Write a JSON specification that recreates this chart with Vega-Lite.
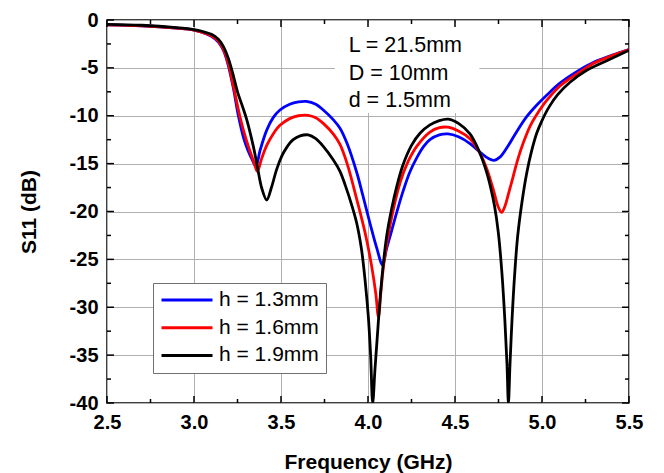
{
  "$schema": "https://vega.github.io/schema/vega-lite/v6.json",
  "width": 522,
  "height": 383,
  "autosize": "none",
  "padding": {"left": 107, "top": 20, "right": 35, "bottom": 70},
  "background": "white",
  "config": {
    "font": "Liberation Sans",
    "view": {"stroke": "black", "strokeWidth": 1.5}
  },
  "datasets": {
    "xMajor": [{"t": 2.5}, {"t": 3.0}, {"t": 3.5}, {"t": 4.0}, {"t": 4.5}, {"t": 5.0}, {"t": 5.5}],
    "xMinor": [{"t": 2.75}, {"t": 3.25}, {"t": 3.75}, {"t": 4.25}, {"t": 4.75}, {"t": 5.25}],
    "yMajor": [{"t": -40}, {"t": -35}, {"t": -30}, {"t": -25}, {"t": -20}, {"t": -15}, {"t": -10}, {"t": -5}, {"t": 0}],
    "yMinor": [{"t": -37.5}, {"t": -32.5}, {"t": -27.5}, {"t": -22.5}, {"t": -17.5}, {"t": -12.5}, {"t": -7.5}, {"t": -2.5}],
    "s11": [
      {"h": "h = 1.3mm", "f": 2.5, "s": -0.5}, {"h": "h = 1.3mm", "f": 2.7, "s": -0.6}, {"h": "h = 1.3mm", "f": 2.9, "s": -0.85},
      {"h": "h = 1.3mm", "f": 3.0, "s": -1.05}, {"h": "h = 1.3mm", "f": 3.05, "s": -1.3}, {"h": "h = 1.3mm", "f": 3.1, "s": -1.7},
      {"h": "h = 1.3mm", "f": 3.14, "s": -2.3}, {"h": "h = 1.3mm", "f": 3.17, "s": -3.2},
      {"h": "h = 1.3mm", "f": 3.195, "s": -4.6}, {"h": "h = 1.3mm", "f": 3.225, "s": -7.0}, {"h": "h = 1.3mm", "f": 3.255, "s": -10.0},
      {"h": "h = 1.3mm", "f": 3.285, "s": -12.3}, {"h": "h = 1.3mm", "f": 3.312, "s": -13.7}, {"h": "h = 1.3mm", "f": 3.335, "s": -14.6},
      {"h": "h = 1.3mm", "f": 3.356, "s": -15.3}, {"h": "h = 1.3mm", "f": 3.38, "s": -13.6}, {"h": "h = 1.3mm", "f": 3.418, "s": -11.5},
      {"h": "h = 1.3mm", "f": 3.455, "s": -10.2}, {"h": "h = 1.3mm", "f": 3.494, "s": -9.4}, {"h": "h = 1.3mm", "f": 3.55, "s": -8.8},
      {"h": "h = 1.3mm", "f": 3.6, "s": -8.55}, {"h": "h = 1.3mm", "f": 3.645, "s": -8.5}, {"h": "h = 1.3mm", "f": 3.7, "s": -8.8},
      {"h": "h = 1.3mm", "f": 3.743, "s": -9.4}, {"h": "h = 1.3mm", "f": 3.8, "s": -10.4}, {"h": "h = 1.3mm", "f": 3.839, "s": -11.3},
      {"h": "h = 1.3mm", "f": 3.88, "s": -12.9}, {"h": "h = 1.3mm", "f": 3.935, "s": -15.9}, {"h": "h = 1.3mm", "f": 3.97, "s": -18.3},
      {"h": "h = 1.3mm", "f": 4.011, "s": -21.2}, {"h": "h = 1.3mm", "f": 4.05, "s": -23.8}, {"h": "h = 1.3mm", "f": 4.084, "s": -25.6},
      {"h": "h = 1.3mm", "f": 4.105, "s": -24.0}, {"h": "h = 1.3mm", "f": 4.13, "s": -22.4}, {"h": "h = 1.3mm", "f": 4.165, "s": -20.1},
      {"h": "h = 1.3mm", "f": 4.203, "s": -17.8}, {"h": "h = 1.3mm", "f": 4.24, "s": -15.9}, {"h": "h = 1.3mm", "f": 4.28, "s": -14.4},
      {"h": "h = 1.3mm", "f": 4.32, "s": -13.2}, {"h": "h = 1.3mm", "f": 4.356, "s": -12.5}, {"h": "h = 1.3mm", "f": 4.41, "s": -12.0},
      {"h": "h = 1.3mm", "f": 4.46, "s": -11.9}, {"h": "h = 1.3mm", "f": 4.52, "s": -12.2}, {"h": "h = 1.3mm", "f": 4.586, "s": -12.9},
      {"h": "h = 1.3mm", "f": 4.65, "s": -13.9}, {"h": "h = 1.3mm", "f": 4.695, "s": -14.5}, {"h": "h = 1.3mm", "f": 4.725, "s": -14.65},
      {"h": "h = 1.3mm", "f": 4.76, "s": -14.3}, {"h": "h = 1.3mm", "f": 4.8, "s": -13.3}, {"h": "h = 1.3mm", "f": 4.85, "s": -11.8},
      {"h": "h = 1.3mm", "f": 4.912, "s": -10.1}, {"h": "h = 1.3mm", "f": 4.969, "s": -8.9}, {"h": "h = 1.3mm", "f": 5.03, "s": -7.8},
      {"h": "h = 1.3mm", "f": 5.103, "s": -6.6}, {"h": "h = 1.3mm", "f": 5.2, "s": -5.4}, {"h": "h = 1.3mm", "f": 5.3, "s": -4.4},
      {"h": "h = 1.3mm", "f": 5.4, "s": -3.7}, {"h": "h = 1.3mm", "f": 5.5, "s": -3.1},

      {"h": "h = 1.6mm", "f": 2.5, "s": -0.5}, {"h": "h = 1.6mm", "f": 2.7, "s": -0.6}, {"h": "h = 1.6mm", "f": 2.9, "s": -0.85},
      {"h": "h = 1.6mm", "f": 3.0, "s": -1.05}, {"h": "h = 1.6mm", "f": 3.05, "s": -1.3}, {"h": "h = 1.6mm", "f": 3.1, "s": -1.65},
      {"h": "h = 1.6mm", "f": 3.14, "s": -2.2}, {"h": "h = 1.6mm", "f": 3.17, "s": -3.1},
      {"h": "h = 1.6mm", "f": 3.198, "s": -4.6}, {"h": "h = 1.6mm", "f": 3.23, "s": -7.2}, {"h": "h = 1.6mm", "f": 3.264, "s": -10.1},
      {"h": "h = 1.6mm", "f": 3.3, "s": -12.5}, {"h": "h = 1.6mm", "f": 3.322, "s": -13.7}, {"h": "h = 1.6mm", "f": 3.345, "s": -14.9},
      {"h": "h = 1.6mm", "f": 3.364, "s": -15.8}, {"h": "h = 1.6mm", "f": 3.39, "s": -14.4}, {"h": "h = 1.6mm", "f": 3.418, "s": -13.1},
      {"h": "h = 1.6mm", "f": 3.455, "s": -11.9}, {"h": "h = 1.6mm", "f": 3.494, "s": -11.0}, {"h": "h = 1.6mm", "f": 3.55, "s": -10.3},
      {"h": "h = 1.6mm", "f": 3.6, "s": -10.0}, {"h": "h = 1.6mm", "f": 3.655, "s": -9.95}, {"h": "h = 1.6mm", "f": 3.7, "s": -10.2},
      {"h": "h = 1.6mm", "f": 3.743, "s": -10.8}, {"h": "h = 1.6mm", "f": 3.8, "s": -11.9}, {"h": "h = 1.6mm", "f": 3.839, "s": -13.0},
      {"h": "h = 1.6mm", "f": 3.88, "s": -15.0}, {"h": "h = 1.6mm", "f": 3.935, "s": -18.7}, {"h": "h = 1.6mm", "f": 3.983, "s": -22.2},
      {"h": "h = 1.6mm", "f": 4.02, "s": -25.6}, {"h": "h = 1.6mm", "f": 4.045, "s": -28.6}, {"h": "h = 1.6mm", "f": 4.06, "s": -31.0},
      {"h": "h = 1.6mm", "f": 4.075, "s": -28.2}, {"h": "h = 1.6mm", "f": 4.09, "s": -25.6}, {"h": "h = 1.6mm", "f": 4.126, "s": -21.5},
      {"h": "h = 1.6mm", "f": 4.184, "s": -17.0}, {"h": "h = 1.6mm", "f": 4.23, "s": -14.8}, {"h": "h = 1.6mm", "f": 4.28, "s": -13.2},
      {"h": "h = 1.6mm", "f": 4.356, "s": -11.7}, {"h": "h = 1.6mm", "f": 4.41, "s": -11.25}, {"h": "h = 1.6mm", "f": 4.46, "s": -11.2},
      {"h": "h = 1.6mm", "f": 4.52, "s": -11.6}, {"h": "h = 1.6mm", "f": 4.586, "s": -12.4}, {"h": "h = 1.6mm", "f": 4.64, "s": -13.8},
      {"h": "h = 1.6mm", "f": 4.682, "s": -15.5}, {"h": "h = 1.6mm", "f": 4.72, "s": -17.7}, {"h": "h = 1.6mm", "f": 4.748, "s": -19.5},
      {"h": "h = 1.6mm", "f": 4.768, "s": -20.1}, {"h": "h = 1.6mm", "f": 4.788, "s": -19.4}, {"h": "h = 1.6mm", "f": 4.808, "s": -18.1},
      {"h": "h = 1.6mm", "f": 4.835, "s": -16.3}, {"h": "h = 1.6mm", "f": 4.86, "s": -14.6}, {"h": "h = 1.6mm", "f": 4.893, "s": -12.8},
      {"h": "h = 1.6mm", "f": 4.931, "s": -11.1}, {"h": "h = 1.6mm", "f": 4.969, "s": -9.9}, {"h": "h = 1.6mm", "f": 5.027, "s": -8.4},
      {"h": "h = 1.6mm", "f": 5.103, "s": -6.9}, {"h": "h = 1.6mm", "f": 5.161, "s": -6.1},
      {"h": "h = 1.6mm", "f": 5.22, "s": -5.4}, {"h": "h = 1.6mm", "f": 5.3, "s": -4.5}, {"h": "h = 1.6mm", "f": 5.4, "s": -3.75},
      {"h": "h = 1.6mm", "f": 5.5, "s": -3.1},

      {"h": "h = 1.9mm", "f": 2.5, "s": -0.45}, {"h": "h = 1.9mm", "f": 2.7, "s": -0.55}, {"h": "h = 1.9mm", "f": 2.9, "s": -0.8},
      {"h": "h = 1.9mm", "f": 3.0, "s": -1.0}, {"h": "h = 1.9mm", "f": 3.05, "s": -1.2}, {"h": "h = 1.9mm", "f": 3.1, "s": -1.5},
      {"h": "h = 1.9mm", "f": 3.14, "s": -2.0}, {"h": "h = 1.9mm", "f": 3.17, "s": -2.8}, {"h": "h = 1.9mm", "f": 3.195, "s": -3.9},
      {"h": "h = 1.9mm", "f": 3.22, "s": -5.4}, {"h": "h = 1.9mm", "f": 3.25, "s": -7.5}, {"h": "h = 1.9mm", "f": 3.278, "s": -9.0},
      {"h": "h = 1.9mm", "f": 3.303, "s": -10.4},
      {"h": "h = 1.9mm", "f": 3.341, "s": -13.2}, {"h": "h = 1.9mm", "f": 3.364, "s": -15.3}, {"h": "h = 1.9mm", "f": 3.39, "s": -17.6},
      {"h": "h = 1.9mm", "f": 3.418, "s": -18.8}, {"h": "h = 1.9mm", "f": 3.445, "s": -17.5}, {"h": "h = 1.9mm", "f": 3.475, "s": -15.6},
      {"h": "h = 1.9mm", "f": 3.505, "s": -14.2}, {"h": "h = 1.9mm", "f": 3.533, "s": -13.3}, {"h": "h = 1.9mm", "f": 3.57, "s": -12.5},
      {"h": "h = 1.9mm", "f": 3.61, "s": -12.1}, {"h": "h = 1.9mm", "f": 3.657, "s": -12.0}, {"h": "h = 1.9mm", "f": 3.7, "s": -12.4},
      {"h": "h = 1.9mm", "f": 3.743, "s": -13.2}, {"h": "h = 1.9mm", "f": 3.8, "s": -14.6}, {"h": "h = 1.9mm", "f": 3.839, "s": -15.8},
      {"h": "h = 1.9mm", "f": 3.87, "s": -17.3}, {"h": "h = 1.9mm", "f": 3.906, "s": -19.3}, {"h": "h = 1.9mm", "f": 3.935, "s": -21.2},
      {"h": "h = 1.9mm", "f": 3.963, "s": -24.0}, {"h": "h = 1.9mm", "f": 3.985, "s": -27.5}, {"h": "h = 1.9mm", "f": 4.002, "s": -31.0},
      {"h": "h = 1.9mm", "f": 4.015, "s": -35.0}, {"h": "h = 1.9mm", "f": 4.027, "s": -40.0}, {"h": "h = 1.9mm", "f": 4.04, "s": -36.5},
      {"h": "h = 1.9mm", "f": 4.053, "s": -33.2}, {"h": "h = 1.9mm", "f": 4.069, "s": -29.2}, {"h": "h = 1.9mm", "f": 4.085, "s": -26.0},
      {"h": "h = 1.9mm", "f": 4.107, "s": -22.6}, {"h": "h = 1.9mm", "f": 4.135, "s": -19.8}, {"h": "h = 1.9mm", "f": 4.165, "s": -17.4},
      {"h": "h = 1.9mm", "f": 4.2, "s": -15.2}, {"h": "h = 1.9mm", "f": 4.25, "s": -13.1}, {"h": "h = 1.9mm", "f": 4.3, "s": -11.8},
      {"h": "h = 1.9mm", "f": 4.356, "s": -10.95}, {"h": "h = 1.9mm", "f": 4.41, "s": -10.5}, {"h": "h = 1.9mm", "f": 4.462, "s": -10.35},
      {"h": "h = 1.9mm", "f": 4.52, "s": -10.8}, {"h": "h = 1.9mm", "f": 4.586, "s": -11.9}, {"h": "h = 1.9mm", "f": 4.636, "s": -13.6},
      {"h": "h = 1.9mm", "f": 4.682, "s": -15.9}, {"h": "h = 1.9mm", "f": 4.705, "s": -17.5}, {"h": "h = 1.9mm", "f": 4.727, "s": -19.4},
      {"h": "h = 1.9mm", "f": 4.749, "s": -22.2}, {"h": "h = 1.9mm", "f": 4.77, "s": -26.5}, {"h": "h = 1.9mm", "f": 4.787, "s": -31.5},
      {"h": "h = 1.9mm", "f": 4.799, "s": -36.0}, {"h": "h = 1.9mm", "f": 4.807, "s": -40.0}, {"h": "h = 1.9mm", "f": 4.816, "s": -36.0},
      {"h": "h = 1.9mm", "f": 4.828, "s": -31.2}, {"h": "h = 1.9mm", "f": 4.842, "s": -26.8}, {"h": "h = 1.9mm", "f": 4.86, "s": -22.6},
      {"h": "h = 1.9mm", "f": 4.885, "s": -19.0}, {"h": "h = 1.9mm", "f": 4.912, "s": -16.0}, {"h": "h = 1.9mm", "f": 4.94, "s": -13.7},
      {"h": "h = 1.9mm", "f": 4.97, "s": -11.8}, {"h": "h = 1.9mm", "f": 5.0, "s": -10.5}, {"h": "h = 1.9mm", "f": 5.04, "s": -9.1},
      {"h": "h = 1.9mm", "f": 5.09, "s": -7.8}, {"h": "h = 1.9mm", "f": 5.161, "s": -6.5}, {"h": "h = 1.9mm", "f": 5.257, "s": -5.25},
      {"h": "h = 1.9mm", "f": 5.39, "s": -4.1}, {"h": "h = 1.9mm", "f": 5.5, "s": -3.15}
    ]
  },
  "resolve": {"axis": {"x": "independent", "y": "independent"}},
  "layer": [
    {
      "data": {"values": [{}]},
      "mark": {"type": "rect", "fill": "white", "stroke": null},
      "encoding": {
        "x": {"datum": 3.81, "type": "quantitative", "scale": {"domain": [2.5, 5.5], "nice": false, "zero": false}, "axis": null},
        "x2": {"datum": 4.64},
        "y": {"datum": -0.3, "type": "quantitative", "scale": {"domain": [-40, 0], "nice": false, "zero": false}, "axis": null},
        "y2": {"datum": -9.7}
      }
    },
    {
      "data": {"name": "s11"},
      "mark": {"type": "line", "strokeWidth": 2.8, "interpolate": "catmull-rom", "clip": true},
      "encoding": {
        "x": {
          "field": "f", "type": "quantitative",
          "scale": {"domain": [2.5, 5.5], "nice": false, "zero": false},
          "axis": {
            "orient": "bottom",
            "title": "Frequency (GHz)",
            "values": [2.5, 3.0, 3.5, 4.0, 4.5, 5.0, 5.5],
            "labelExpr": "format(datum.value, '.1f')",
            "labelFont": "Liberation Sans", "labelFontWeight": "bold", "labelFontSize": 20, "labelColor": "black",
            "labelPadding": 9, "labelOverlap": false, "labelFlush": false, "labelBound": false,
            "ticks": false,
            "grid": true, "gridColor": "#b0b0b0", "gridWidth": 1,
            "domain": false,
            "titleFont": "Liberation Sans", "titleFontWeight": "bold", "titleFontSize": 21, "titleColor": "black",
            "titleBaseline": "top", "titleY": 48
          }
        },
        "y": {
          "field": "s", "type": "quantitative",
          "scale": {"domain": [-40, 0], "nice": false, "zero": false},
          "axis": {
            "orient": "left",
            "title": "S11 (dB)",
            "values": [-40, -35, -30, -25, -20, -15, -10, -5, 0],
            "labelExpr": "'' + datum.value",
            "labelFont": "Liberation Sans", "labelFontWeight": "bold", "labelFontSize": 20, "labelColor": "black",
            "labelPadding": 9, "labelOverlap": false, "labelFlush": false, "labelBound": false,
            "ticks": false,
            "grid": true, "gridColor": "#b0b0b0", "gridWidth": 1,
            "domain": false,
            "titleFont": "Liberation Sans", "titleFontWeight": "bold", "titleFontSize": 21, "titleColor": "black",
            "titleAngle": -90, "titleBaseline": "alphabetic", "titleAlign": "center", "titleX": -72, "titleY": 191.5
          }
        },
        "color": {
          "field": "h", "type": "nominal",
          "scale": {"domain": ["h = 1.3mm", "h = 1.6mm", "h = 1.9mm"], "range": ["#0000ff", "#ff0000", "#000000"]},
          "legend": {
            "orient": "none", "legendX": 46, "legendY": 263,
            "title": null, "symbolType": "stroke", "symbolSize": 2601, "symbolStrokeWidth": 3,
            "clipHeight": 20, "rowPadding": 6.7, "labelOffset": 5,
            "labelFont": "Liberation Sans", "labelFontSize": 21, "labelColor": "black",
            "padding": 7, "fillColor": "white", "strokeColor": "#707070"
          }
        }
      }
    },
    {
      "data": {"values": [{"note": "L = 21.5mm\nD = 10mm\nd = 1.5mm"}]},
      "mark": {
        "type": "text", "align": "left", "baseline": "top", "lineBreak": "\n",
        "font": "Liberation Sans", "fontSize": 21.5, "lineHeight": 27.5, "color": "black"
      },
      "encoding": {
        "x": {"datum": 3.889, "type": "quantitative", "axis": null},
        "y": {"datum": -1.58, "type": "quantitative", "axis": null},
        "text": {"field": "note"}
      }
    },
    {
      "data": {"name": "xMajor"},
      "mark": {"type": "rule", "color": "black", "strokeWidth": 1.5},
      "encoding": {
        "x": {"field": "t", "type": "quantitative", "axis": null},
        "y": {"datum": -40, "type": "quantitative", "axis": null},
        "y2": {"datum": -39.27}
      }
    },
    {
      "data": {"name": "xMajor"},
      "mark": {"type": "rule", "color": "black", "strokeWidth": 1.5},
      "encoding": {
        "x": {"field": "t", "type": "quantitative", "axis": null},
        "y": {"datum": 0, "type": "quantitative", "axis": null},
        "y2": {"datum": -0.73}
      }
    },
    {
      "data": {"name": "xMinor"},
      "mark": {"type": "rule", "color": "black", "strokeWidth": 1.5},
      "encoding": {
        "x": {"field": "t", "type": "quantitative", "axis": null},
        "y": {"datum": -40, "type": "quantitative", "axis": null},
        "y2": {"datum": -39.58}
      }
    },
    {
      "data": {"name": "xMinor"},
      "mark": {"type": "rule", "color": "black", "strokeWidth": 1.5},
      "encoding": {
        "x": {"field": "t", "type": "quantitative", "axis": null},
        "y": {"datum": 0, "type": "quantitative", "axis": null},
        "y2": {"datum": -0.42}
      }
    },
    {
      "data": {"name": "yMajor"},
      "mark": {"type": "rule", "color": "black", "strokeWidth": 1.5},
      "encoding": {
        "y": {"field": "t", "type": "quantitative", "axis": null},
        "x": {"datum": 2.5, "type": "quantitative", "axis": null},
        "x2": {"datum": 2.54}
      }
    },
    {
      "data": {"name": "yMajor"},
      "mark": {"type": "rule", "color": "black", "strokeWidth": 1.5},
      "encoding": {
        "y": {"field": "t", "type": "quantitative", "axis": null},
        "x": {"datum": 5.5, "type": "quantitative", "axis": null},
        "x2": {"datum": 5.46}
      }
    },
    {
      "data": {"name": "yMinor"},
      "mark": {"type": "rule", "color": "black", "strokeWidth": 1.5},
      "encoding": {
        "y": {"field": "t", "type": "quantitative", "axis": null},
        "x": {"datum": 2.5, "type": "quantitative", "axis": null},
        "x2": {"datum": 2.523}
      }
    },
    {
      "data": {"name": "yMinor"},
      "mark": {"type": "rule", "color": "black", "strokeWidth": 1.5},
      "encoding": {
        "y": {"field": "t", "type": "quantitative", "axis": null},
        "x": {"datum": 5.5, "type": "quantitative", "axis": null},
        "x2": {"datum": 5.477}
      }
    }
  ]
}
